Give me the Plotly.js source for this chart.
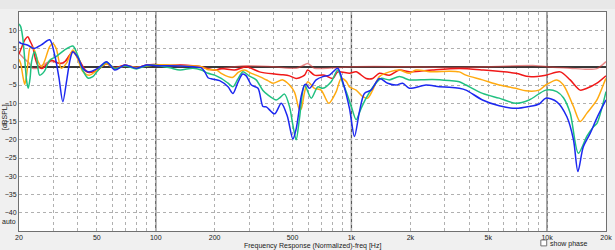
<!DOCTYPE html>
<html>
<head>
<meta charset="utf-8">
<script src="https://cdn.plot.ly/plotly-3.0.1.min.js"></script>
<style>
html,body{margin:0;padding:0;background:#f0f0f0;}
#chart{width:615px;height:250px;}
</style>
</head>
<body>
<div id="chart"></div>
<script>
// ---- data (frequency in Hz, level in dB) ----
const blueHz = [20, 20.5, 22.2, 23.8, 26, 28.7, 30.5, 32, 33.5, 35, 36.5, 37.7, 40, 42.4, 45, 50, 56, 61.8, 69.5, 79.7, 89.6, 100, 118, 133, 155, 171, 178, 185, 192, 200, 212, 234, 248, 262, 278, 290, 308, 333, 353, 367, 405, 438, 470, 502, 522, 543, 554, 576, 587, 610, 660, 714, 772, 851, 903, 977, 1036, 1099, 1165, 1260, 1389, 1532, 1691, 1827, 1977, 2405, 2812, 3162, 3556, 3848, 4677, 5690, 6923, 8093, 9105, 9850, 11210, 12620, 13640, 14370, 15300, 16620, 17980, 20000];
const blueDb = [6.8, 6.4, 5.9, 5.0, 6.0, 7.4, 3.0, -3.0, -9.6, -4.0, 2.0, 4.1, 2.5, -0.4, -1.4, -0.6, 1.4, -0.9, 0.5, -0.4, 0.5, 0.3, 0.3, 0.2, 0.0, -0.3, -1.4, -3.0, -3.3, -3.5, -3.8, -5.5, -7.3, -4.5, -2.0, -2.5, -5.0, -5.9, -10.9, -11.0, -12.9, -10.0, -13.5, -19.8, -17.0, -11.0, -8.0, -5.0, -4.8, -5.9, -3.6, -2.7, -2.3, -0.4, -4.1, -11.4, -19.1, -12.3, -7.3, -6.4, -3.2, -4.5, -5.0, -4.5, -5.9, -5.0, -5.5, -5.6, -5.9, -6.4, -9.1, -10.7, -11.4, -10.9, -10.2, -8.6, -9.6, -13.7, -20.0, -28.7, -22.0, -18.2, -14.0, -9.1];

const greenHz = [20, 20.4, 20.9, 21.4, 21.9, 22.3, 22.8, 23.2, 24.0, 24.6, 25.5, 27, 28.7, 31, 34, 37.7, 40, 42.4, 45, 47.7, 50, 56, 61.8, 69.5, 79.7, 89.6, 100, 118, 133, 155, 171, 185, 200, 216, 234, 248, 262, 279, 300, 326, 353, 374, 413, 430, 455, 483, 502, 522, 543, 576, 623, 673, 714, 788, 851, 903, 940, 1000, 1057, 1121, 1189, 1310, 1417, 1563, 1758, 1977, 2138, 2599, 3162, 3556, 3848, 4677, 5690, 6923, 8093, 9850, 11210, 12120, 13120, 14440, 15980, 17280, 17980, 20000];
const greenDb = [11.7, 11, 8, 2, -4, -5.9, -3, 1.5, 4.1, 2.5, -2.3, -1.2, 1.8, 2.8, 4.5, 5.7, 3, -1, -3.1, -2.7, -1.4, 1.2, -0.5, 0.3, -0.6, 0.3, 0.4, -0.3, -0.9, -0.4, -0.9, -1.8, -2.3, -3.2, -4.5, -5.5, -3.5, -1.4, -2.5, -3.6, -6.5, -7.7, -9.1, -8.5, -7.5, -11, -16, -20, -14, -5, -8.6, -5.5, -5.9, -4.1, -0.9, -4.5, -6.8, -11, -14.5, -11.4, -8.6, -5, -3.2, -3.6, -2.7, -3.6, -3.6, -3.5, -3.8, -4.1, -5, -7.3, -8.6, -10, -9.1, -6.4, -6.8, -8.5, -12.7, -23.7, -19, -16.4, -15.5, -6.8];

const orangeHz = [20, 20.4, 21, 21.4, 21.9, 22.3, 22.7, 23.2, 24.0, 25, 26.1, 27, 28.7, 29.8, 31, 32.9, 35, 37.7, 40, 42.4, 45.8, 50, 56, 61.8, 69.5, 79.7, 89.6, 100, 118, 133, 155, 171, 185, 204, 216, 234, 248, 265, 284, 308, 339, 374, 397, 446, 483, 512, 543, 554, 576, 598, 647, 700, 766, 836, 886, 940, 977, 1057, 1142, 1211, 1284, 1389, 1563, 1758, 1977, 2138, 2599, 3162, 3556, 3848, 4677, 5690, 6923, 7786, 9105, 9850, 11210, 12120, 13640, 14760, 15980, 17980, 19830, 20000];
const orangeDb = [2, 0.9, -3, -4.8, -2, 2, 5, 5.5, 4.5, 1.5, 0, 1.5, 5.5, 6.4, 5, -0.4, 1, 4.6, 2, -1.3, -2.3, -1, 0.8, -0.6, 0.3, -0.2, 0.2, 0.5, 0.5, 0.3, 0.2, 0, -0.8, -0.9, -1.8, -2.7, -2.9, -1.5, -0.9, -1.8, -2.7, -3.8, -4.5, -3.6, -5, -7, -11.8, -11.5, -7, -4.1, -5.9, -6.4, -10, -6.8, -3.2, -4, -5.5, -6.4, -8.2, -8.6, -6.4, -2.7, -1.4, -0.9, -1.8, -0.9, -1.4, -1.2, -1.4, -2.3, -3.6, -5, -5.9, -6.6, -6.4, -5, -3.6, -5, -10.9, -15, -12.7, -9.1, -3.6, -3.2];

const redHz = [20, 20.7, 21.5, 22.2, 22.8, 23.5, 24.3, 25.2, 26.2, 27.5, 29.3, 31, 32.5, 34.5, 37.7, 40.5, 43.5, 46, 50, 56, 61.8, 69.5, 79.7, 89.6, 100, 118, 133, 155, 171, 185, 200, 216, 253, 290, 339, 405, 446, 483, 522, 543, 576, 598, 647, 728, 803, 851, 977, 1057, 1189, 1284, 1389, 1563, 1758, 1977, 2223, 2599, 3556, 4677, 6923, 8093, 9850, 11660, 13120, 14760, 15980, 17980, 20000];
const redDb = [3.5, 5.5, 7.5, 8.2, 7, 5.5, 2, 0, -0.5, 0.5, 1.8, 1.2, 0.9, 1.5, 4.2, 2, -1, -1.6, -1, 0.8, -0.3, 0.5, -0.3, 0.5, 0.6, 0.3, 0.5, 0.3, 0, -0.6, -0.9, -0.5, -0.9, 0, -1.4, -2, -2.2, -2.5, -3.2, -3.0, -2.3, -0.9, -2.3, -2.3, -3.2, -1.4, -1.8, -1.4, -3.2, -3.2, -1.8, -2.3, -0.9, -1.4, -1.2, -0.9, -0.5, -0.9, -1.8, -2.7, -2.3, -1.4, -3.6, -6.4, -5.9, -4.5, -2.5];

const darkRedHz = [20, 21.2, 22.5, 23.5, 24.8, 26.5, 28.5, 30.2, 33.5, 37.7, 42, 45, 50, 56, 62, 70, 80, 90, 100, 150, 171, 204, 230, 290, 400, 522, 560, 598, 647, 800, 1000, 2000, 3000, 5000, 8757, 10000, 13120, 15980, 17980, 20000];
const darkRedDb = [3.7, 2.3, 1, -0.4, -0.4, 0.5, 1.4, 1.4, 0.9, 4, 0.5, -1.5, -1, 0.8, -0.3, 0.4, -0.2, 0.4, 0.5, 0.3, 0, -0.9, -0.3, 0.3, 0, -0.4, 0.2, 0.9, -0.4, -0.3, 0, 0, -0.2, 0, 0.3, 0, -0.4, -0.7, -0.5, 1.4];

// axis ticks
const gridHz = [20,30,40,50,60,70,80,90,100,200,300,400,500,600,700,800,900,1000,2000,3000,4000,5000,6000,7000,8000,9000,10000,20000];
const gridLabels = ['20','','','50','','','','','100','200','','','500','','','','','1k','2k','','','5k','','','','','10k','20k'];
const decadeHz = [100, 1000, 10000];
const yTicks = [-40,-35,-30,-25,-20,-15,-10,-5,0,5,10];

// ---- traces ----
function line(x, y, color, w) {
  return {x: x, y: y, type: 'scatter', mode: 'lines',
          line: {color: color, width: w, shape: 'spline', smoothing: 0.8},
          hoverinfo: 'skip', showlegend: false};
}
const traces = [
  line(darkRedHz, darkRedDb, 'rgba(215,60,60,0.6)', 1.5),
  line(redHz, redDb, '#f01818', 1.5),
  line(orangeHz, orangeDb, '#ffaa10', 1.5),
  line(greenHz, greenDb, '#20c080', 1.5),
  line(blueHz, blueDb, '#1c28f0', 1.5)
];

const font = {family: 'Liberation Sans, Arial, sans-serif', size: 7, color: '#202020'};
const shapes = decadeHz.map(f => ({type: 'line', xref: 'x', yref: 'paper', x0: f, x1: f, y0: 0, y1: 1,
  line: {color: '#5a5a5a', width: 1.3}, layer: 'between'}));
shapes.push({type: 'rect', xref: 'paper', yref: 'paper', x0: -0.04, x1: 1.02, y0: 1.014, y1: 1.06,
  fillcolor: '#e8e8e8', line: {width: 0}, layer: 'below'});
shapes.push({type: 'rect', xref: 'paper', yref: 'paper', x0: 0.889, x1: 0.899, y0: -0.068, y1: -0.041,
  fillcolor: '#ffffff', line: {color: '#707070', width: 1}});

const layout = {
  width: 615, height: 250,
  margin: {l: 19, r: 9, t: 12, b: 19, pad: 0},
  paper_bgcolor: '#f0f0f0', plot_bgcolor: '#ffffff',
  font: font,
  showlegend: false,
  xaxis: {type: 'log', range: [Math.log10(20), Math.log10(20000)],
    tickmode: 'array', tickvals: gridHz, ticktext: gridLabels, ticks: '',
    showgrid: true, gridcolor: '#b0b0b0', griddash: 'dot', gridwidth: 1,
    showline: true, mirror: true, linecolor: '#707070', linewidth: 1,
    zeroline: false, tickfont: font, fixedrange: true},
  yaxis: {range: [-45, 15], tickmode: 'array', tickvals: yTicks, ticks: '',
    showgrid: true, gridcolor: '#b0b0b0', griddash: 'dot', gridwidth: 1,
    zeroline: true, zerolinecolor: '#383838', zerolinewidth: 1.8,
    showline: true, mirror: true, linecolor: '#707070', linewidth: 1,
    tickfont: font, fixedrange: true},
  shapes: shapes,
  annotations: [
    {text: '[dBSPL]', xref: 'paper', yref: 'paper', x: -0.024, y: 0.52, textangle: -90,
     showarrow: false, font: font, xanchor: 'center', yanchor: 'middle'},
    {text: 'auto', xref: 'paper', yref: 'paper', x: -0.017, y: 0.045,
     showarrow: false, font: font, xanchor: 'center', yanchor: 'middle'},
    {text: 'Frequency Response (Normalized)-freq [Hz]', xref: 'paper', yref: 'paper', x: 0.5, y: -0.068,
     showarrow: false, font: font, xanchor: 'center', yanchor: 'middle'},
    {text: 'show phase', xref: 'paper', yref: 'paper', x: 0.902, y: -0.06,
     showarrow: false, font: font, xanchor: 'left', yanchor: 'middle'}
  ]
};

Plotly.newPlot('chart', traces, layout, {staticPlot: true, displayModeBar: false});
</script>
</body>
</html>
